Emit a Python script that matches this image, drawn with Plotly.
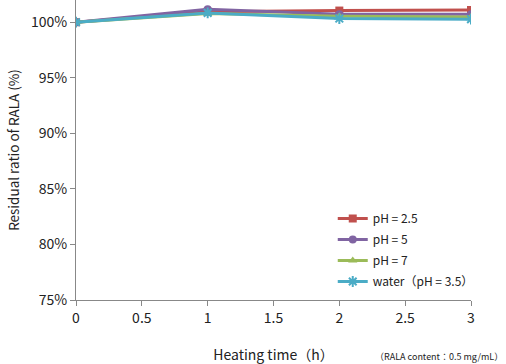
import plotly.graph_objects as go

hours = [0, 1, 2, 3]
ph25 = [100.0, 100.95, 101.05, 101.1]
ph5 = [100.0, 101.17, 100.72, 100.72]
ph7 = [100.0, 100.78, 100.54, 100.48]
water = [100.0, 100.84, 100.33, 100.27]

names = ["pH = 2.5", "pH = 5", "pH = 7", "water\uff08pH = 3.5\uff09"]
colors = ["#C0504D", "#8064A2", "#9BBB59", "#4BACC6"]
symbols = ["square", "circle", "triangle-up", "asterisk"]
series = [ph25, ph5, ph7, water]

font = "Noto Sans CJK JP, DejaVu Sans, sans-serif"

fig = go.Figure()
for i, (n, c, s, v) in enumerate(zip(names, colors, symbols, series)):
    mk = dict(symbol=s, size=8, color=c)
    if s == "asterisk":
        mk = dict(symbol="asterisk-open", size=9, color=c, line=dict(color=c, width=2))
    fig.add_trace(go.Scatter(x=hours, y=[y / 100 for y in v], name=n, mode="lines+markers",
                             legendgroup=f"g{i}",
                             line=dict(color=c, width=3), marker=mk))

fig.update_layout(
    width=506, height=364,
    margin=dict(l=76, r=35, t=0, b=64, autoexpand=False),
    paper_bgcolor="white", plot_bgcolor="white",
    font=dict(family=font, size=14, color="#222"),
    showlegend=True,
    legend=dict(x=0.65, y=0.32, xanchor="left", yanchor="top",
                font=dict(size=12), bgcolor="rgba(0,0,0,0)",
                tracegroupgap=2, itemwidth=30),
    xaxis=dict(range=[0, 3], tickvals=[0, 0.5, 1, 1.5, 2, 2.5, 3],
               ticktext=["0", "0.5", "1", "1.5", "2", "2.5", "3"],
               showgrid=False, zeroline=False, showline=True, linecolor="#888", linewidth=1,
               ticks="outside", ticklen=5, tickcolor="#888", automargin=False,
               title=dict(text="Heating time\uff08h\uff09", font=dict(size=14), standoff=24)),
    yaxis=dict(range=[0.75, 1.02], tickvals=[0.75, 0.8, 0.85, 0.9, 0.95, 1.0],
               tickformat=".0%", showgrid=False, zeroline=False, showline=True,
               linecolor="#888", linewidth=1, ticks="outside", ticklen=5, tickcolor="#888",
               automargin=False,
               title=dict(text="Residual ratio of RALA (%)", font=dict(size=13.5), standoff=8)),
    annotations=[dict(text="\uff08RALA content\uff1a0.5 mg/mL\uff09", xref="paper", yref="paper",
                      x=1.085, y=-0.16, xanchor="right", yanchor="top", showarrow=False,
                      font=dict(size=9))],
)

fig.write_html("out.html", config={"displayModeBar": False},
               post_script="document.body.style.margin='0';document.body.style.padding='0';")
